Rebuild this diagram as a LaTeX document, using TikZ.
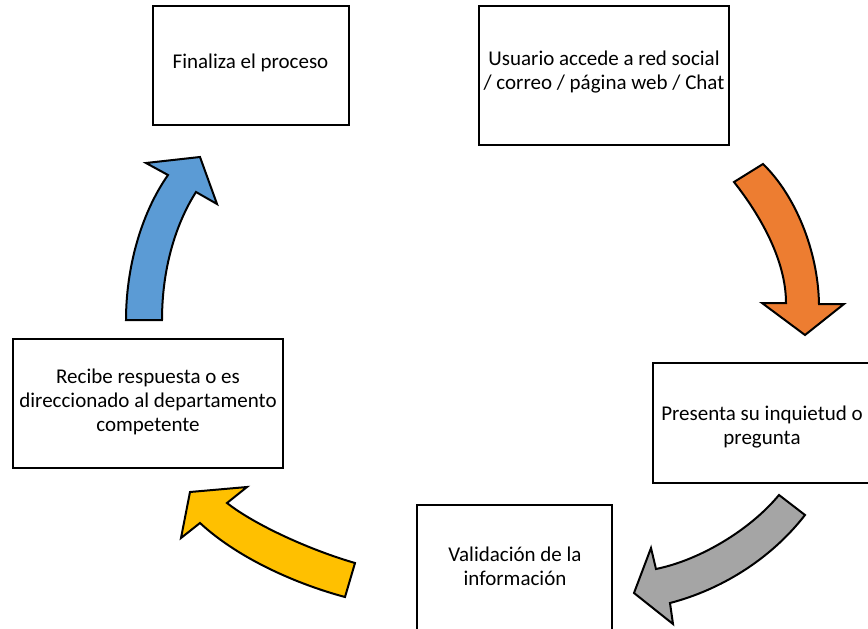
\documentclass[tikz,border=0pt]{standalone}
\usepackage{fontspec}
\setmainfont{Carlito}
\definecolor{arrOrange}{HTML}{ED7D31}
\definecolor{arrBlue}{HTML}{5B9BD5}
\definecolor{arrGray}{HTML}{A5A5A5}
\definecolor{arrYellow}{HTML}{FFC000}
\newcommand\lns[1]{\parbox[t]{320pt}{\centering #1}}
\tikzset{
  box/.style={draw=black, line width=1.5pt, inner sep=0pt, fill=white},
  txt/.style={anchor=base, inner sep=0pt, font=\fontsize{21}{24}\selectfont},
  bentarrow/.style={draw=black, line width=2pt, line join=miter}
}
\begin{document}
\begin{tikzpicture}[x=1pt,y=-1pt]
\useasboundingbox (0,0) rectangle (868,629);
\clip (0,0) rectangle (868,629);
% boxes
\node[box, minimum width=196pt, minimum height=119pt] (b1) at (251,65.5) {};
\node[box, minimum width=250pt, minimum height=139pt] (b2) at (604,75.5) {};
\node[box, minimum width=218pt, minimum height=120pt] (b3) at (762,423) {};
\node[box, minimum width=195pt, minimum height=140pt] (b4) at (514.5,575) {};
\node[box, minimum width=270pt, minimum height=129pt] (b5) at (148,403.5) {};
% texts
\node[txt] (t1) at (250.5,68) {\lns{Finaliza el proceso}};
\node[txt] (t2) at (604,65) {\lns{Usuario accede a red social\\/ correo / página web / Chat}};
\node[txt] (t3) at (762,420) {\lns{Presenta su inquietud o\\pregunta}};
\node[txt] (t4) at (515,561) {\lns{Validación de la\\información}};
\node[txt] (t5) at (148,383) {\lns{Recibe respuesta o es\\direccionado al departamento\\competente}};
% curved block arrows
\filldraw[bentarrow, fill=arrOrange] (734,182) -- (763,164) .. controls (795,195) and (818,250) .. (819,304) -- (844,304) -- (805,335) -- (762,303) -- (786,303) .. controls (786,260) and (760,215) .. (734,182) -- cycle;
\filldraw[bentarrow, fill=arrGray] (779,495) -- (805,515) .. controls (770,560) and (720,590) .. (670,603) -- (673,624) -- (634,593) -- (651,548) -- (656,569) .. controls (700,560) and (750,530) .. (779,495) -- cycle;
\filldraw[bentarrow, fill=arrYellow] (355,563) -- (345,597) .. controls (300,585) and (240,560) .. (200,523) -- (181,538) -- (190,492) -- (247,487) -- (227,503) .. controls (255,525) and (310,550) .. (355,563) -- cycle;
\filldraw[bentarrow, fill=arrBlue] (126,320) -- (162,320) .. controls (162,270) and (175,225) .. (196,192) -- (217,204) -- (200,157) -- (146,163) -- (168,175) .. controls (140,215) and (126,270) .. (126,320) -- cycle;
\end{tikzpicture}
\end{document}
